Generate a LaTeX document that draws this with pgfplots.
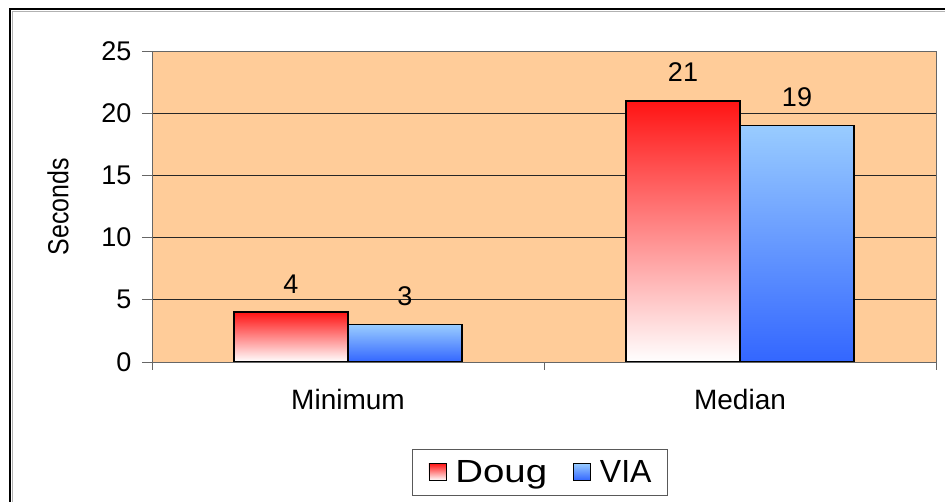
\documentclass[border=0pt]{standalone}
\usepackage{pgfplots}
\pgfplotsset{compat=1.18}
\usepackage{fontspec}
\setmainfont{Liberation Sans}
\definecolor{bgorange}{RGB}{255,204,153}
\definecolor{dougtop}{RGB}{255,20,20}
\definecolor{viatop}{RGB}{153,204,255}
\definecolor{viabot}{RGB}{51,102,255}
\pgfplotsset{mylegend/.style={legend image code/.code={\draw[##1,line width=0.8pt] (0pt,-8pt) rectangle (17pt,9pt);}},
  dougbar/.style={draw=black, line width=1.5pt, top color=dougtop, bottom color=white, bar shift=-57pt, mylegend},
  viabar/.style={draw=black, line width=1.5pt, top color=viatop, bottom color=viabot, bar shift=57pt, mylegend}}
\begin{document}
\begin{tikzpicture}
\useasboundingbox (-152pt,-140pt) rectangle (793pt,362pt);
\draw[line width=2.5pt] (-142pt,-150pt) -- (-142pt,353pt) -- (800pt,353pt);
\draw[gray!60, line width=1pt] (-139pt,-150pt) -- (-139pt,350.5pt) -- (800pt,350.5pt);
\begin{axis}[
  at={(0pt,0pt)}, anchor=south west,
  scale only axis, width=784pt, height=311pt,
  xmin=-0.5, xmax=1.5, ymin=0, ymax=25,
  ybar=0pt, bar width=114pt,
  axis background/.style={fill=bgorange},
  axis line style={draw=gray!80!black, line width=0.8pt},
  ymajorgrids, major grid style={draw=black!85, line width=0.7pt},
  ytick={0,5,10,15,20,25},
  xtick={0,1}, xticklabels={Minimum,Median},
  minor xtick={-0.5,0.5,1.5},
  tick align=outside, tick pos=left,
  major tick length=10pt, minor tick length=8pt,
  x tick style={draw=none}, minor x tick style={draw=gray!80!black, line width=0.8pt},
  y tick style={draw=gray!80!black, line width=0.8pt},
  /pgf/number format/assume math mode=true,
  tick label style={font=\fontsize{27}{30}\selectfont},
  xticklabel style={font=\fontsize{28}{30}\selectfont, yshift=-14pt},
  yticklabel style={xshift=-7pt},
  ylabel={\scalebox{0.86}[1]{Seconds}},
  ylabel style={font=\fontsize{29}{32}\selectfont, at={(axis description cs:-0.12,0.5)}, anchor=center},
  nodes near coords,
  every node near coord/.append style={font=\fontsize{27}{30}\selectfont, black, yshift=15pt},
  legend style={at={(axis description cs:0.495,-0.355)}, anchor=center,
    draw=gray!70!black, fill=white, line width=0.8pt,
    font=\fontsize{32}{34}\selectfont, legend columns=-1,
    nodes={inner sep=0pt},
    /tikz/every even column/.append style={column sep=26pt},
    /tikz/every odd column/.append style={column sep=9pt},
    inner xsep=16pt, inner ysep=11pt},
]
\addplot[dougbar] coordinates {(0,4)};
\addplot[dougbar, forget plot] coordinates {(1,21)};
\addplot[viabar] coordinates {(0,3)};
\addplot[viabar, forget plot] coordinates {(1,19)};
\legend{\scalebox{1.2}[1]{Doug},VIA}
\end{axis}
\end{tikzpicture}
\end{document}
